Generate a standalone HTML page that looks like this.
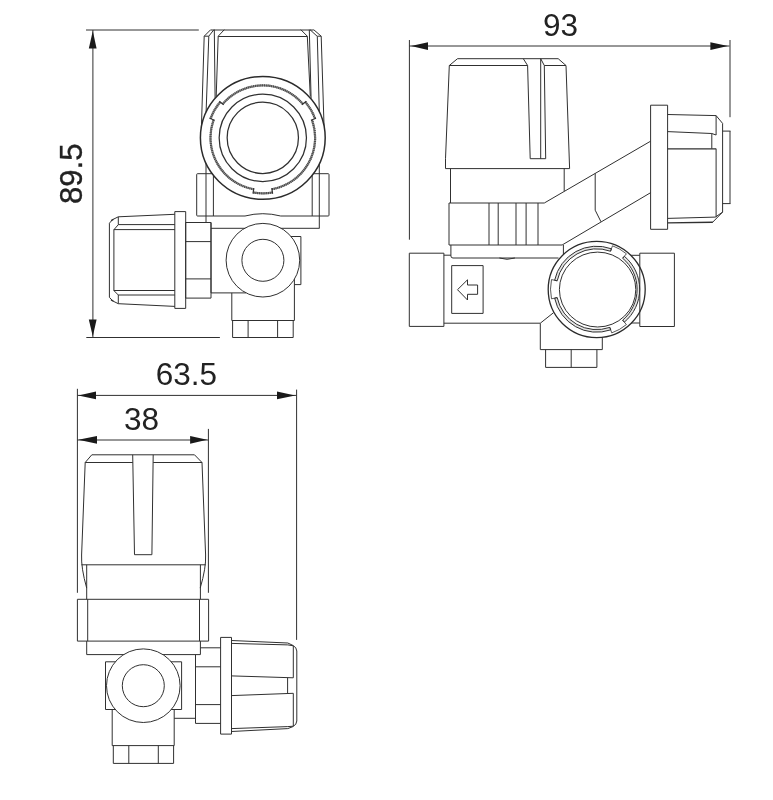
<!DOCTYPE html>
<html>
<head>
<meta charset="utf-8">
<title>Valve dimensions</title>
<style>
html,body{margin:0;padding:0;background:#fff;}
body{width:773px;height:800px;overflow:hidden;}
svg{display:block;}
text{font-family:"Liberation Sans",sans-serif;font-size:31.5px;fill:#222;filter:grayscale(1);}
.l{stroke:#303030;stroke-width:1;fill:none;}
.k{stroke:#2b2b2b;stroke-width:1.3;fill:none;}
.g{stroke:#555;stroke-width:1;fill:none;}
.d{stroke:#555;stroke-width:1;fill:none;}
.h{stroke:#555;stroke-width:1.9;fill:none;}
.a{fill:#1a1a1a;stroke:none;}
.w{fill:#fff;}
</style>
</head>
<body>
<svg width="773" height="800" viewBox="0 0 773 800">
<rect x="0" y="0" width="773" height="800" fill="#fff"/>

<g id="viewA">
<path class="l" d="M86 30H198.8"/>
<path class="l" d="M92.9 30V337.5"/>
<path class="l" d="M86.3 337.5H219.9"/>
<path class="a" d="M92.8 31L96.6 48.5H88.8Z"/>
<path class="a" d="M92.8 336.6L96.6 319.6H88.8Z"/>
<text x="82.3" y="173.8" text-anchor="middle" transform="rotate(-90 82.3 173.8)" style="font-size:31.1px;stroke:#222;stroke-width:0.35">89.5</text>
<path class="l" d="M210.7 30H313.7"/>
<path class="l" d="M210.7 29.7L204.2 36.2L201.4 127.9"/>
<path class="l" d="M204.2 36.2H208.8M213.9 29.7L208.8 36.2L206.1 112"/>
<path class="l" d="M214.3 29.7L215.1 98"/>
<path class="l" d="M224.3 29.7L218.2 36.2L216.2 96.5"/>
<path class="l" d="M218.2 36.5H307.3"/>
<path class="l" d="M300.8 29.7L307.3 36.2L310.3 96.5"/>
<path class="l" d="M309.3 29.7L311.1 98.5"/>
<path class="l" d="M321.2 36.2H317.3M310 29.7L317.3 36.4L319.3 112"/>
<path class="l" d="M313.7 29.7L321.2 36.2L324.1 127.9"/>
<path class="l" d="M212.7 173.7H197.5Q196.7 173.7 196.7 174.5V215.2Q196.7 216 197.5 216H245Q262.8 211.4 280.7 216H328.2Q329 216 329 215.2V174.5Q329 173.7 328.2 173.7H312.9"/>
<path class="l" d="M213.4 175V216M312.2 175V216"/>
<path class="l" d="M206 161V222.5M319.3 161V228.3"/>
<path class="l" d="M185.7 222.5H211V227.6"/>
<path class="l" d="M211 228.3H319.5"/>
<ellipse class="k w" style="stroke-width:1.5" cx="262.8" cy="137.85" rx="62.4" ry="61.4"/>
<circle class="l" style="stroke-width:1.25" cx="262.8" cy="137.85" r="43.65"/>
<circle class="l" style="stroke-width:1.25" cx="262.8" cy="137.85" r="35.65"/>
<path class="h" style="stroke:#909090;stroke-width:2.2" d="M253.72 189.21A52.30 52.30 0 0 1 213.65 119.81M222.74 104.08A52.30 52.30 0 0 1 302.86 104.08M311.95 119.81A52.30 52.30 0 0 1 271.88 189.21M272.45 192.46A55.60 55.60 0 0 1 253.15 192.46M210.55 118.68A55.60 55.60 0 0 1 220.21 101.96M305.39 101.96A55.60 55.60 0 0 1 315.05 118.68"/>
<path class="h" style="stroke:#3a3a3a;stroke-width:2.2;stroke-dasharray:0.8 1" d="M253.72 189.21A52.30 52.30 0 0 1 213.65 119.81M222.74 104.08A52.30 52.30 0 0 1 302.86 104.08M311.95 119.81A52.30 52.30 0 0 1 271.88 189.21M272.45 192.46A55.60 55.60 0 0 1 253.15 192.46M210.55 118.68A55.60 55.60 0 0 1 220.21 101.96M305.39 101.96A55.60 55.60 0 0 1 315.05 118.68"/>
<path class="l" style="stroke-width:1.2" d="M271.69 188.12L272.65 193.54M253.91 188.12L252.95 193.54M214.69 120.19L209.52 118.31M223.58 104.79L219.37 101.25M302.02 104.79L306.23 101.25M310.91 120.19L316.08 118.31"/>
<path class="l" d="M211 227.6V292.9H246"/>
<path class="l" d="M290.8 236.5H300.9V284.6H294.4"/>
<path class="l" d="M231.8 292.9V320.5H294.4V279"/>
<path class="l" d="M232.6 320.5V337.5H293.2V320.5M248.1 320.5V337.5M277.6 320.5V337.5"/>
<circle class="l w" cx="262.9" cy="260.2" r="36.8"/>
<circle class="l" cx="262.9" cy="260.3" r="21"/>
<path class="l" d="M174.8 211.6H185.7V308.4H174.8Z"/>
<path class="l" d="M174.8 214.3L118.3 216.8L112.6 219.6L109.4 223.2V297.3L112.6 300.9L118.3 303.7L174.8 306.4"/>
<path class="l" d="M118.3 216.8V224.7L113.9 229.7V290.6L118.3 295V303.7"/>
<path class="l" d="M118.3 224.6H174.8M113.9 229.6H174.8M113.9 290.5H174.8M118.3 295H174.8"/>
<path class="l" style="stroke-width:1.2" d="M111 220.6L113.4 219.4M111 299.9L113.4 301.1"/>
<path class="l" d="M185.7 222.5V298.1H211M185.7 241.6H211M185.7 278.9H211M211 222.5V298.1"/>
</g>
<g id="viewB">
<path class="l" d="M409.4 40V239.7"/>
<path class="l" d="M409.4 46H729.5"/>
<path class="l" d="M730 40V117.2"/>
<path class="a" d="M411 46.1L428 42.2V50Z"/>
<path class="a" d="M727.9 46.1L710.4 42.2V50Z"/>
<text x="560.6" y="36.3" text-anchor="middle">93</text>
<path class="l" d="M449.3 65.5L457.5 58.7H558.2L566 65.5L569.6 168.6H445.5V158.7L449.3 65.5H527.6M544.3 65.5H566"/>
<path class="l" d="M523.3 58.7L527.6 65.5L530.2 158.7H545.7L544.3 65.5L540.7 58.7V158.7"/>
<path class="l" d="M450.5 168.6V203M564.2 168.6V191.2"/>
<path class="l" d="M449 203H544.3L650.6 141.2M449 203V245H562.1L650.6 192.7"/>
<path class="l" d="M489 203V245M498.2 203V245M516 203V245M526.1 203V245M538 203V245"/>
<path class="l" d="M595.2 173.4V210.2L601 221.8"/>
<path class="l" d="M450.9 245V256Q450.9 258 453 258H558.5M563.4 245V254M443.9 255.2H450.9"/>
<path class="l" d="M499.4 258Q507 260.6 514.9 258"/>
<path class="l" d="M409.3 253.2H443.9V326.4H409.3Z"/>
<path class="l" d="M443.9 323.2H540.3L553.5 312.7"/>
<path class="l" d="M451.7 265.6H483.1V313.4H451.7Z"/>
<path class="l" d="M457.5 289.7L467.5 279.8V285H477.6V294.3H467.5V300Z"/>
<path class="l" d="M628 255.3H639.8M628 323H639.8"/>
<path class="l" d="M540.3 323.4V349.6H602.3V337M545.6 349.6V367.4H596.9V349.6M571.2 349.6V367.4"/>
<ellipse class="k w" cx="596.7" cy="289.45" rx="48.5" ry="48.1"/>
<ellipse class="l" cx="597.6" cy="289.55" rx="38.2" ry="37.45"/>
<path class="l" style="stroke-width:1;fill:#e4e4e4" d="M557.18 280.80L554.64 280.26A43.00 43.00 0 0 1 611.41 248.79L610.52 251.24A40.40 40.40 0 0 0 557.18 280.80ZM622.67 258.25L624.34 256.26A43.00 43.00 0 0 1 624.34 322.14L622.67 320.15A40.40 40.40 0 0 0 622.67 258.25ZM609.85 327.40L610.70 329.86A43.00 43.00 0 0 1 554.64 298.14L557.18 297.60A40.40 40.40 0 0 0 609.85 327.40Z"/>
<path class="l" style="stroke-width:0.8" d="M551.51 298.81A46.20 46.20 0 0 1 551.51 279.59M557.18 297.60L551.51 298.81M557.18 280.80L551.51 279.59M612.50 245.79A46.20 46.20 0 0 1 626.40 253.81M610.52 251.24L612.50 245.79M622.67 258.25L626.40 253.81M626.40 324.59A46.20 46.20 0 0 1 611.74 332.88M622.67 320.15L626.40 324.59M609.85 327.40L611.74 332.88"/>
<path class="l" d="M639.8 253.2H674.4V326.5H639.8Z"/>
<path class="l" d="M650.6 105.2H667.6V229.3H650.6Z"/>
<path class="l" d="M667.6 114.5L716.1 115.6L722.6 123.4V212.1L712.7 222.2"/><path class="l" style="stroke-width:1.4" d="M712.9 222.2L667.6 222.9"/>
<path class="l" d="M716.1 115.6V135L711.8 133.5V148.7M667.6 131.6L711.8 133.5"/>
<path class="l" style="stroke-width:1.4" d="M667.6 148.9H716.1"/>
<path class="l" d="M716.1 148.7V217.1M667.6 218.4L715.3 217.1L722.6 212.1"/>
<path class="l" d="M722.6 131.1H730.5M722.6 203.6H730.5"/>
<path class="l" d="M730 131.1V203.6"/>
</g>
<g id="viewC">
<path class="l" d="M77.4 388.8V592.8M296.6 389.6V639.9M208.4 428.9V592.8"/>
<path class="l" d="M77.4 395.4H296.5"/><path class="l" d="M77.4 440H208.3"/>
<path class="a" d="M78.3 395.4L96 391.6V399.3Z"/>
<path class="a" d="M295.2 395.4L277 391.6V399.3Z"/>
<path class="a" d="M78.3 439.8L97 435.9V443.7Z"/>
<path class="a" d="M207.2 439.8L190.1 435.9V443.7Z"/>
<text x="186.4" y="384.5" text-anchor="middle">63.5</text>
<text x="141.5" y="429.5" text-anchor="middle">38</text>
<path class="l" d="M85.2 462.5L91.8 454.8H194.5L202 462.5M85.2 462.5H132.8M153.2 462.5H202"/>
<path class="l" d="M85.2 462.5L81.6 555Q81 568 86.7 588.1M202 462.5L205.6 555Q206.2 568 200.2 588.1"/>
<path class="l" d="M132.7 454.8L134.5 554.7H151.9L153.2 454.8"/>
<path class="l" d="M81.4 564.8H205.8"/>
<path class="l" d="M86.7 564.8V599.3M86.7 641.1V654.6H200.4V641.1M200.4 599.3V564.8"/>
<path class="l" d="M77.4 599.3H208.6V641.1H77.4Z"/>
<path class="l" d="M87.7 599.3V641.1M199.5 599.3V641.1"/>
<path class="l" d="M105.5 661.8H181.6V709.5H105.5Z"/>
<path class="l" d="M112.2 709.5V745.6H174.2V709.5"/>
<path class="l" d="M113.3 745.6V763.4H173.6V745.6M128.8 745.6V763.4M158.3 745.6V763.4"/>
<path class="l" d="M174.2 718.3H195.5"/>
<circle class="l w" cx="143.3" cy="685.7" r="36.8"/>
<circle class="l" cx="143.3" cy="685.7" r="21"/>
<path class="l" d="M200.4 647.8H220.6"/>
<path class="l" d="M195.5 654.6V723.4H220.6M195.5 666.8H220.6M195.5 704.6H220.6"/>
<path class="l" d="M220.6 637.4H231.5V734.1H220.6Z"/>
<path class="l" d="M231.5 640.5L287.8 643L292.5 645.2Q296.8 647.2 296.8 651V721Q296.8 724.8 292.5 726.8L287.8 728.6L231.5 731.5"/>
<path class="l" d="M231.5 643.4L287.8 644.9L293.3 645.8V677.8L231.5 675.9M231.5 728.6L287.8 726.6L293.3 726.2V693.3L231.5 695.6"/>
<path class="l" d="M287.6 677.7V693.4"/>
</g>
</svg>
</body>
</html>
